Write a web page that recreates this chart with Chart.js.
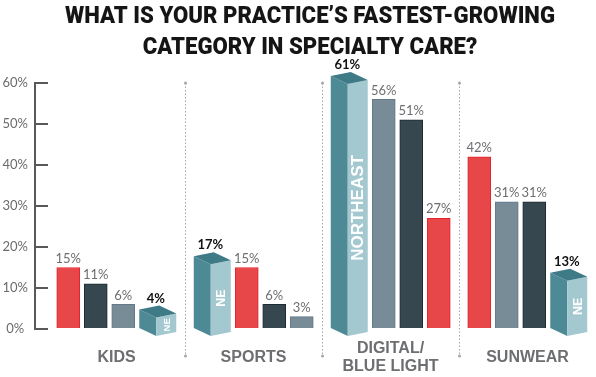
<!DOCTYPE html>
<html><head><meta charset="utf-8">
<script src="https://cdn.jsdelivr.net/npm/chart.js@4/dist/chart.umd.min.js"></script>
<style>html,body{margin:0;padding:0;background:#fff}#wrap{width:596px;height:377px}</style>
</head><body><div id="wrap"><canvas id="c" width="596" height="377"></canvas></div>
<script>
// ---- data ----
const TITLE_LINES = ['WHAT IS YOUR PRACTICE\u2019S FASTEST-GROWING', 'CATEGORY IN SPECIALTY CARE?'];
const CATEGORIES = ['KIDS', 'SPORTS', ['DIGITAL/', 'BLUE LIGHT'], 'SUNWEAR'];
const RED_VALUES  = [15, 15, 27, 42];
const GREY_VALUES = [6, 3, 56, 31];
const DARK_VALUES = [11, 6, 51, 31];
const NE_VALUES   = [4, 17, 61, 13];
const Y_TICKS = [0, 10, 20, 30, 40, 50, 60];
const NE_LONG = 'NORTHEAST';
const NE_SHORT = 'NE';

// ---- styles / layout ----
const SERIES = [
  { values: RED_VALUES,  fill: '#E8474A', border: '#E2232A', width: 23 },
  { values: GREY_VALUES, fill: '#778C97', border: '#62798A', width: 23 },
  { values: DARK_VALUES, fill: '#37474F', border: '#1E2A30', width: 23 },
  { values: NE_VALUES,   ne: true, width: 37 }
];
const NE_SIDE = '#4E8A95', NE_TOP = '#3F7B86', NE_FRONT = '#A3C8D0';
const CAT_PX = 137, GAP = 4.5;
const TITLE_CENTER_X = 310, TITLE_WIDTH = 490, TITLE_Y = [16.5, 47.5];

function slotX(si, ci) {
  const order = SERIES.map((s, k) => k).sort((a, b) => SERIES[b].values[ci] - SERIES[a].values[ci]);
  const total = order.reduce((t, k) => t + SERIES[k].width, 0) + GAP * (order.length - 1);
  let x = (CAT_PX - total) / 2;
  for (const k of order) {
    if (k === si) return ci + (x + SERIES[k].width / 2) / CAT_PX;
    x += SERIES[k].width + GAP;
  }
}

const datasets = SERIES.map((s, si) => ({
  data: s.values.map((v, ci) => ({ x: slotX(si, ci), y: v })),
  backgroundColor: s.ne ? 'rgba(0,0,0,0)' : s.fill,
  borderColor: s.ne ? 'rgba(0,0,0,0)' : s.border,
  borderWidth: s.ne ? 0 : 1,
  barThickness: s.width,
  grouped: false,
  clip: false
}));

function poly(ctx, pts, color) {
  ctx.beginPath();
  ctx.moveTo(pts[0][0], pts[0][1]);
  for (let i = 1; i < pts.length; i++) ctx.lineTo(pts[i][0], pts[i][1]);
  ctx.closePath();
  ctx.fillStyle = color;
  ctx.fill();
}

const titlePlugin = {
  id: 'condensedTitle',
  afterDraw(chart) {
    const ctx = chart.ctx;
    ctx.save();
    ctx.font = "900 24px Roboto, 'Liberation Sans', sans-serif";
    ctx.fillStyle = '#151515';
    ctx.textAlign = 'center';
    ctx.textBaseline = 'middle';
    const sx = TITLE_WIDTH / ctx.measureText(TITLE_LINES[0]).width;
    TITLE_LINES.forEach((line, i) => {
      ctx.save();
      ctx.translate(TITLE_CENTER_X, TITLE_Y[i]);
      ctx.scale(sx, 1);
      ctx.fillText(line, 0, 0);
      ctx.restore();
    });
    ctx.restore();
  }
};

const decor = {
  id: 'decor',
  beforeDatasetsDraw(chart) {
    const { ctx, chartArea: a, scales: { x, y } } = chart;
    ctx.save();
    ctx.strokeStyle = '#a3a5a8';
    ctx.fillStyle = '#a3a5a8';
    ctx.lineWidth = 1;
    const yBot = a.bottom + 27;
    for (let i = 1; i < CATEGORIES.length; i++) {
      const px = Math.round(x.getPixelForValue(i)) + 0.5;
      ctx.setLineDash([1.5, 2]);
      ctx.beginPath(); ctx.moveTo(px, a.top); ctx.lineTo(px, yBot); ctx.stroke();
      ctx.setLineDash([]);
      ctx.beginPath(); ctx.arc(px, a.top, 1.5, 0, Math.PI * 2); ctx.fill();
      ctx.beginPath(); ctx.arc(px, yBot, 1.5, 0, Math.PI * 2); ctx.fill();
    }
    ctx.strokeStyle = '#58595b';
    ctx.lineWidth = 2;
    const ax = a.left - 13;
    ctx.beginPath();
    ctx.moveTo(ax, y.getPixelForValue(Y_TICKS[Y_TICKS.length - 1]) - 1);
    ctx.lineTo(ax, y.getPixelForValue(0) + 1);
    ctx.stroke();
    ctx.restore();
  },
  afterDatasetsDraw(chart) {
    const ctx = chart.ctx;
    ctx.save();
    SERIES.forEach((s, si) => {
      const meta = chart.getDatasetMeta(si);
      meta.data.forEach((bar, ci) => {
        const p = bar.getProps(['x', 'y', 'base', 'width'], true);
        const v = s.values[ci];
        if (s.ne) {
          const W = p.width, xL = p.x - W / 2, sideW = 17, drop = 8, rise = 4;
          const yT = p.y - 3, y0 = p.base;
          poly(ctx, [[xL, yT], [xL + sideW, yT + drop], [xL + sideW, y0 + drop], [xL, y0]], NE_SIDE);
          poly(ctx, [[xL + sideW, yT + drop], [xL + W, yT + drop - rise], [xL + W, y0 + drop - rise], [xL + sideW, y0 + drop]], NE_FRONT);
          poly(ctx, [[xL, yT], [xL + W - sideW, yT - rise], [xL + W, yT + drop - rise], [xL + sideW, yT + drop]], NE_TOP);
          const fx = xL + sideW + (W - sideW) / 2;
          const fTop = yT + drop - rise / 2, fBot = y0 + drop - rise / 2;
          const fH = fBot - fTop;
          ctx.save();
          ctx.translate(fx, (fTop + fBot) / 2);
          ctx.rotate(-Math.PI / 2);
          ctx.fillStyle = '#ffffff';
          ctx.textAlign = 'center';
          ctx.textBaseline = 'middle';
          ctx.font = "bold 17px 'Liberation Sans', Arial, sans-serif";
          let txt = NE_LONG;
          if (ctx.measureText(txt).width > fH * 0.7) {
            txt = NE_SHORT;
            const sz = Math.max(9.5, Math.min(12.5, fH * 0.33));
            ctx.font = "bold " + sz.toFixed(1) + "px 'Liberation Sans', Arial, sans-serif";
          }
          ctx.fillText(txt, 0, 1);
          ctx.restore();
          ctx.fillStyle = '#111111';
          ctx.font = "bold 13px Lato, 'Liberation Sans', sans-serif";
          ctx.textAlign = 'center';
          ctx.textBaseline = 'middle';
          ctx.fillText(v + '%', p.x - 2, yT - 11);
        } else {
          ctx.fillStyle = '#6d6e71';
          ctx.font = "13px Lato, 'Liberation Sans', sans-serif";
          ctx.textAlign = 'center';
          ctx.textBaseline = 'middle';
          ctx.fillText(v + '%', p.x, p.y - 9);
        }
      });
    });
    ctx.restore();
  }
};

new Chart(document.getElementById('c'), {
  type: 'bar',
  data: { datasets },
  plugins: [decor, titlePlugin],
  options: {
    responsive: false,
    animation: false,
    layout: { padding: { left: 0, right: 0, top: 83, bottom: 0 } },
    plugins: {
      legend: { display: false },
      tooltip: { enabled: false },
      title: { display: false }
    },
    scales: {
      x: {
        type: 'linear', min: 0, max: CATEGORIES.length, offset: false,
        afterBuildTicks: (s) => { s.ticks = CATEGORIES.map((c, i) => ({ value: i + 0.5 })); },
        afterFit: (s) => { s.height = 48; },
        grid: { display: false, drawTicks: false },
        border: { display: false },
        ticks: {
          autoSkip: false, maxRotation: 0, minRotation: 0, padding: 20, crossAlign: 'center',
          callback: (v, i) => CATEGORIES[i],
          color: '#6d6e71',
          font: { family: "'Liberation Sans', Arial, sans-serif", size: 16, weight: 'bold', lineHeight: 1.125 }
        }
      },
      y: {
        min: 0, max: Y_TICKS[Y_TICKS.length - 1],
        afterBuildTicks: (s) => { s.ticks = Y_TICKS.map(v => ({ value: v })); },
        afterFit: (s) => { s.width = 48; },
        grid: { drawOnChartArea: false, tickLength: 13, color: '#58595b', lineWidth: 2 },
        border: { display: false },
        ticks: {
          crossAlign: 'center', padding: 7,
          callback: (v) => v + '%',
          color: '#6b6b6b',
          font: { family: "Lato, 'Liberation Sans', sans-serif", size: 13 }
        }
      }
    }
  }
});
</script>
</body></html>
